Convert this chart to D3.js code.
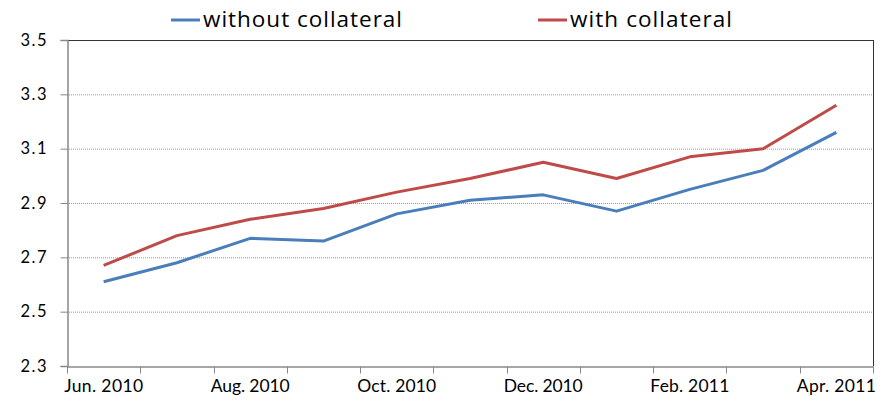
<!DOCTYPE html>
<html><head><meta charset="utf-8">
<script src="https://cdn.jsdelivr.net/npm/d3@7"></script>
<style>body{margin:0;background:#fff}svg{display:block}text{fill:#000}</style>
</head><body><svg id="c" width="888" height="405" font-family="Lato, sans-serif"></svg>
<script>
const categories = ["Jun. 2010","Jul. 2010","Aug. 2010","Sep. 2010","Oct. 2010","Nov. 2010","Dec. 2010","Jan. 2011","Feb. 2011","Mar. 2011","Apr. 2011"];
const withoutCollateral = [2.61,2.68,2.77,2.76,2.86,2.91,2.93,2.87,2.95,3.02,3.16];
const withCollateral = [2.67,2.78,2.84,2.88,2.94,2.99,3.05,2.99,3.07,3.10,3.26];
const yTicks = [2.3,2.5,2.7,2.9,3.1,3.3,3.5];
const seriesNames = ["without collateral","with collateral"];
const colors = ["#4a7ebb","#be4b48"];

const svg = d3.select("#c");
const L=67,R=873,T=40,B=366;
const x = d3.scaleBand().domain(categories).range([L,R]);
const y = d3.scaleLinear().domain([2.3,3.5]).range([B,T]);

// gridlines
svg.append("g").selectAll("line").data(yTicks.filter(v=>v>2.3&&v<3.5)).join("line")
  .attr("x1",L).attr("x2",R).attr("y1",d=>y(d)+0.5).attr("y2",d=>y(d)+0.5)
  .attr("stroke","#999").attr("stroke-width",1).attr("stroke-dasharray","1,1");
// top & right border
svg.append("line").attr("x1",L).attr("x2",R).attr("y1",y(3.5)+0.5).attr("y2",y(3.5)+0.5).attr("stroke","#333");
svg.append("line").attr("x1",R+0.5).attr("x2",R+0.5).attr("y1",T).attr("y2",B).attr("stroke","#333");

// y axis
const ya = svg.append("g").attr("transform",`translate(${L+0.5},0)`)
  .call(d3.axisLeft(y).tickValues(yTicks).tickFormat(d3.format(".1f")).tickSize(7).tickPadding(14));
ya.select(".domain").attr("stroke","#888").attr("stroke-width",1.5);
ya.selectAll(".tick line").attr("stroke","#888");
ya.selectAll(".tick text").style("font-family","Lato, sans-serif").style("font-size","16.5px")
  .attr("textLength",26).attr("lengthAdjust","spacing");

// x axis
const xa = svg.append("g").attr("transform",`translate(0,${B+0.5})`)
  .call(d3.axisBottom(x).tickValues([]).tickSize(0));
xa.select(".domain").attr("stroke","#888").attr("stroke-width",1.5);
const tickPos = categories.map(c=>x(c)).concat([R]);
xa.selectAll("line.t").data(tickPos).join("line").attr("class","t")
  .attr("x1",d=>Math.round(d)+0.5).attr("x2",d=>Math.round(d)+0.5).attr("y1",0).attr("y2",7).attr("stroke","#888");
xa.selectAll("text.l").data(categories.filter((c,i)=>i%2===0)).join("text").attr("class","l")
  .attr("x",d=>x(d)+x.bandwidth()/2).attr("y",25).attr("text-anchor","middle")
  .style("font-family","Lato, sans-serif").style("font-size","17.5px")
  .attr("textLength",79).attr("lengthAdjust","spacing").text(d=>d);

// lines
const line = d3.line().x((d,i)=>x(categories[i])+x.bandwidth()/2).y(d=>y(d));
[withoutCollateral,withCollateral].forEach((s,i)=>{
  svg.append("path").datum(s).attr("d",line).attr("fill","none")
    .attr("stroke",colors[i]).attr("stroke-width",3).attr("stroke-linejoin","round");
});

// legend
const leg = [{x:171,w:199,name:seriesNames[0],c:colors[0]},{x:538,w:162,name:seriesNames[1],c:colors[1]}];
leg.forEach(l=>{
  svg.append("line").attr("x1",l.x).attr("x2",l.x+29).attr("y1",20).attr("y2",20).attr("stroke",l.c).attr("stroke-width",3);
  svg.append("text").attr("x",l.x+32).attr("y",27)
    .style("font-family","'Open Sans', sans-serif").style("font-size","22.5px")
    .attr("textLength",l.w).attr("lengthAdjust","spacing").text(l.name);
});
</script></body></html>
